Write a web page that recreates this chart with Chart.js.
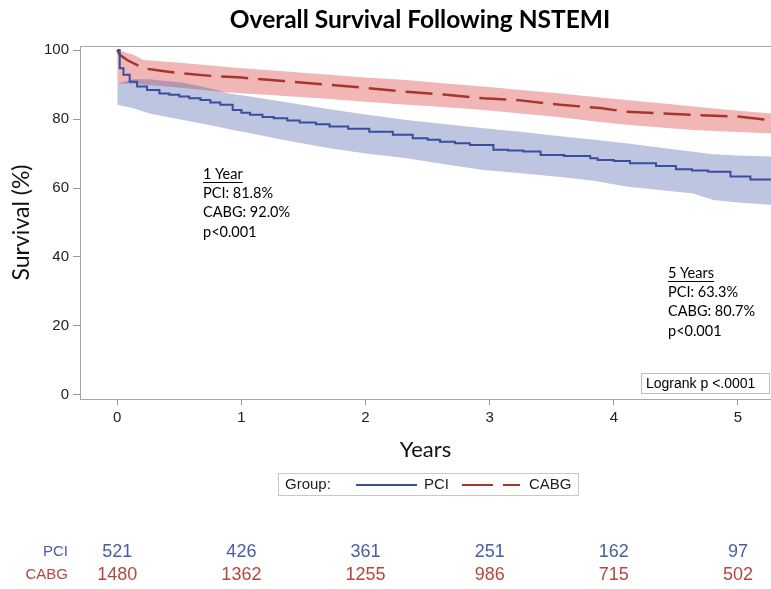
<!DOCTYPE html>
<html>
<head>
<meta charset="utf-8">
<script src="https://cdn.jsdelivr.net/npm/chart.js@4.4.1/dist/chart.umd.min.js"></script>
<style>
  html, body { margin: 0; padding: 0; background: #fff; }
  #wrap { width: 771px; height: 589px; position: relative; }
</style>
</head>
<body>
<div id="wrap"><canvas id="myChart" width="771" height="589"></canvas></div>
<script>
// Kaplan-Meier estimates (years, survival %)
var pciYears = [0, 0.02, 0.05, 0.1, 0.16, 0.24, 0.34, 0.42, 0.5, 0.58, 0.67, 0.75, 0.83, 0.93, 1.0, 1.07, 1.17, 1.26, 1.37, 1.47, 1.6, 1.71, 1.86, 2.03, 2.22, 2.38, 2.5, 2.6, 2.72, 2.84, 3.03, 3.15, 3.27, 3.41, 3.6, 3.81, 3.87, 4.0, 4.13, 4.34, 4.5, 4.63, 4.76, 4.94, 5.1, 5.27];
var pciSurv = [100, 94.7, 92.8, 90.8, 89.4, 88.4, 87.4, 87.0, 86.5, 86.0, 85.5, 84.8, 84.1, 82.6, 81.8, 81.2, 80.6, 80.2, 79.6, 79.0, 78.5, 77.8, 77.2, 76.3, 75.4, 74.4, 74.0, 73.4, 73.0, 72.5, 71.1, 70.9, 70.6, 69.6, 69.3, 68.6, 68.1, 67.8, 67.2, 66.4, 65.4, 65.1, 64.7, 63.3, 62.5, 62.5];

var cabgYears = [0, 0.02, 0.08, 0.21, 0.35, 0.53, 0.75, 0.93, 1.0, 1.34, 1.71, 2.0, 2.33, 2.65, 2.95, 3.25, 3.57, 3.89, 4.1, 4.4, 4.64, 5.0, 5.27];
var cabgSurv = [100, 98.6, 97.1, 94.7, 94.0, 93.2, 92.5, 92.2, 92.0, 91.0, 89.9, 89.0, 87.9, 87.0, 86.0, 85.4, 84.1, 83.2, 82.1, 81.6, 81.2, 80.7, 79.6];

// confidence bands
var pciBandYears = [0, 0.13, 0.26, 0.53, 0.8, 0.9, 1.07, 1.34, 1.71, 2.0, 2.33, 2.65, 2.95, 3.25, 3.57, 3.85, 4.1, 4.35, 4.64, 4.8, 5.0, 5.27];
var pciLower = [84.1, 83.1, 81.6, 79.7, 77.8, 77.0, 75.9, 73.9, 71.5, 70.0, 68.6, 66.8, 65.2, 64.3, 63.2, 62.0, 60.4, 59.5, 58.4, 56.5, 55.8, 55.1];
var pciUpper = [90.3, 91.5, 91.5, 90.5, 88.5, 87.4, 86.5, 85.0, 82.8, 81.3, 79.7, 78.5, 77.3, 76.3, 75.0, 74.0, 73.0, 71.8, 70.5, 69.8, 69.4, 69.1];

var cabgBandYears = [0, 0.13, 0.21, 0.53, 0.93, 1.2, 1.71, 2.0, 2.33, 2.65, 2.95, 3.25, 3.57, 3.85, 4.1, 4.4, 4.64, 5.0, 5.27];
var cabgUpper = [100, 98.6, 97.1, 96.2, 94.9, 94.2, 92.8, 92.0, 91.3, 90.3, 89.4, 88.4, 87.4, 86.4, 85.5, 84.5, 83.6, 82.4, 81.6];
var cabgLower = [90.3, 90.2, 90.0, 89.0, 87.6, 87.0, 85.8, 85.0, 84.1, 83.4, 82.6, 81.6, 80.5, 79.3, 78.3, 77.5, 76.8, 76.2, 75.8];

var xTicks = [0, 1, 2, 3, 4, 5];
var yTicks = [0, 20, 40, 60, 80, 100];

// numbers at risk
var pciAtRisk = [521, 426, 361, 251, 162, 97];
var cabgAtRisk = [1480, 1362, 1255, 986, 715, 502];

var blue = "#3a4ea0";
var red = "#a8352c";

function pts(xs, ys) {
    return xs.map(function (x, i) { return {x: x, y: ys[i]}; });
}

var extras = {
    id: "extras",
    afterDraw: function (chart) {
        var ctx = chart.ctx;
        var a = chart.chartArea;
        var xs = chart.scales.x;
        ctx.save();

        // plot frame
        ctx.strokeStyle = "#a6a6a6";
        ctx.lineWidth = 1;
        ctx.strokeRect(a.left + 0.5, a.top + 0.5, a.right - a.left, a.bottom - a.top);

        // title
        ctx.fillStyle = "#000";
        ctx.font = "bold 24.5px Lato";
        ctx.textAlign = "center";
        ctx.textBaseline = "middle";
        ctx.fillText("Overall Survival Following NSTEMI", 420, 20);

        // annotations
        ctx.font = "14.5px Lato";
        ctx.textAlign = "left";
        function block(x, y, lines) {
            lines.forEach(function (t, i) {
                ctx.fillText(t, x, y + i * 19.3);
            });
            var w = ctx.measureText(lines[0]).width;
            ctx.fillRect(x, y + 8, w, 1);
        }
        block(203, 174, ["1 Year", "PCI: 81.8%", "CABG: 92.0%", "p<0.001"]);
        block(668, 273, ["5 Years", "PCI: 63.3%", "CABG: 80.7%", "p<0.001"]);

        // logrank box
        ctx.fillStyle = "#fff";
        ctx.fillRect(641.5, 373.5, 128, 20);
        ctx.strokeStyle = "#bdbdbd";
        ctx.strokeRect(641.5, 373.5, 128, 20);
        ctx.fillStyle = "#000";
        ctx.font = "14px 'Liberation Sans'";
        ctx.fillText("Logrank p <.0001", 646, 384);

        // legend
        ctx.strokeStyle = "#c8c8c8";
        ctx.strokeRect(278.5, 473.5, 300, 22);
        ctx.font = "15px 'Liberation Sans'";
        ctx.fillStyle = "#222";
        ctx.fillText("Group:", 285, 485);
        ctx.fillText("PCI", 424, 485);
        ctx.fillText("CABG", 529, 485);
        ctx.lineWidth = 2;
        ctx.strokeStyle = blue;
        ctx.beginPath(); ctx.moveTo(356, 485); ctx.lineTo(417, 485); ctx.stroke();
        ctx.strokeStyle = red;
        ctx.beginPath(); ctx.moveTo(462, 485); ctx.lineTo(493, 485);
        ctx.moveTo(503, 485); ctx.lineTo(520, 485); ctx.stroke();

        // at-risk table
        ctx.textAlign = "right";
        ctx.font = "15px 'Liberation Sans'";
        ctx.fillStyle = "#4a5ca8";
        ctx.fillText("PCI", 68, 552);
        ctx.fillStyle = "#b5473f";
        ctx.fillText("CABG", 68, 575);
        ctx.textAlign = "center";
        ctx.font = "18px 'Liberation Sans'";
        xTicks.forEach(function (t, i) {
            var px = xs.getPixelForValue(t);
            ctx.fillStyle = "#4a5ca8";
            ctx.fillText(String(pciAtRisk[i]), px, 552);
            ctx.fillStyle = "#b5473f";
            ctx.fillText(String(cabgAtRisk[i]), px, 575);
        });
        ctx.restore();
    }
};

var ctx = document.getElementById("myChart");
var myChart = new Chart(ctx, {
    type: "line",
    data: {
        datasets: [
            {label: "PCI", data: pts(pciYears, pciSurv), borderColor: blue, borderWidth: 2, stepped: true, pointRadius: 0, fill: false},
            {label: "CABG", data: pts(cabgYears, cabgSurv), borderColor: red, borderWidth: 2.5, borderDash: [27, 10], pointRadius: 0, fill: false},
            {label: "PCI lower", data: pts(pciBandYears, pciLower), borderWidth: 0, borderColor: "rgba(0,0,0,0)", pointRadius: 0, fill: false},
            {label: "PCI upper", data: pts(pciBandYears, pciUpper), borderWidth: 0, borderColor: "rgba(0,0,0,0)", pointRadius: 0, fill: "-1", backgroundColor: "rgba(75,95,170,0.36)"},
            {label: "CABG lower", data: pts(cabgBandYears, cabgLower), borderWidth: 0, borderColor: "rgba(0,0,0,0)", pointRadius: 0, fill: false},
            {label: "CABG upper", data: pts(cabgBandYears, cabgUpper), borderWidth: 0, borderColor: "rgba(0,0,0,0)", pointRadius: 0, fill: "-1", backgroundColor: "rgba(222,80,80,0.42)"}
        ]
    },
    options: {
        responsive: false,
        animation: false,
        events: [],
        layout: {padding: {top: 46, bottom: 110, left: 0, right: 0}},
        plugins: {legend: {display: false}, tooltip: {enabled: false}, title: {display: false}},
        scales: {
            x: {
                type: "linear",
                min: -0.30,
                max: 5.266,
                afterFit: function (s) { s.height = 80; },
                afterBuildTicks: function (s) { s.ticks = xTicks.map(function (v) { return {value: v}; }); },
                grid: {drawOnChartArea: false, drawTicks: true, tickLength: 6, color: "#999"},
                border: {display: true, color: "#a6a6a6"},
                ticks: {font: {family: "Liberation Sans", size: 15}, color: "#222", padding: 4, maxRotation: 0},
                title: {display: true, text: "Years", font: {family: "Lato", size: 22}, color: "#111", padding: {top: 0, bottom: 16}}
            },
            y: {
                min: -1.16,
                max: 101.16,
                afterFit: function (s) { s.width = 80; },
                afterBuildTicks: function (s) { s.ticks = yTicks.map(function (v) { return {value: v}; }); },
                grid: {drawOnChartArea: false, drawTicks: true, tickLength: 7, color: "#999"},
                border: {display: true, color: "#a6a6a6"},
                ticks: {font: {family: "Liberation Sans", size: 15}, color: "#222", padding: 4},
                title: {display: true, text: "Survival (%)", font: {family: "Lato", size: 23}, color: "#111", padding: {top: 8, bottom: 0}}
            }
        }
    },
    plugins: [extras]
});
</script>
</body>
</html>
